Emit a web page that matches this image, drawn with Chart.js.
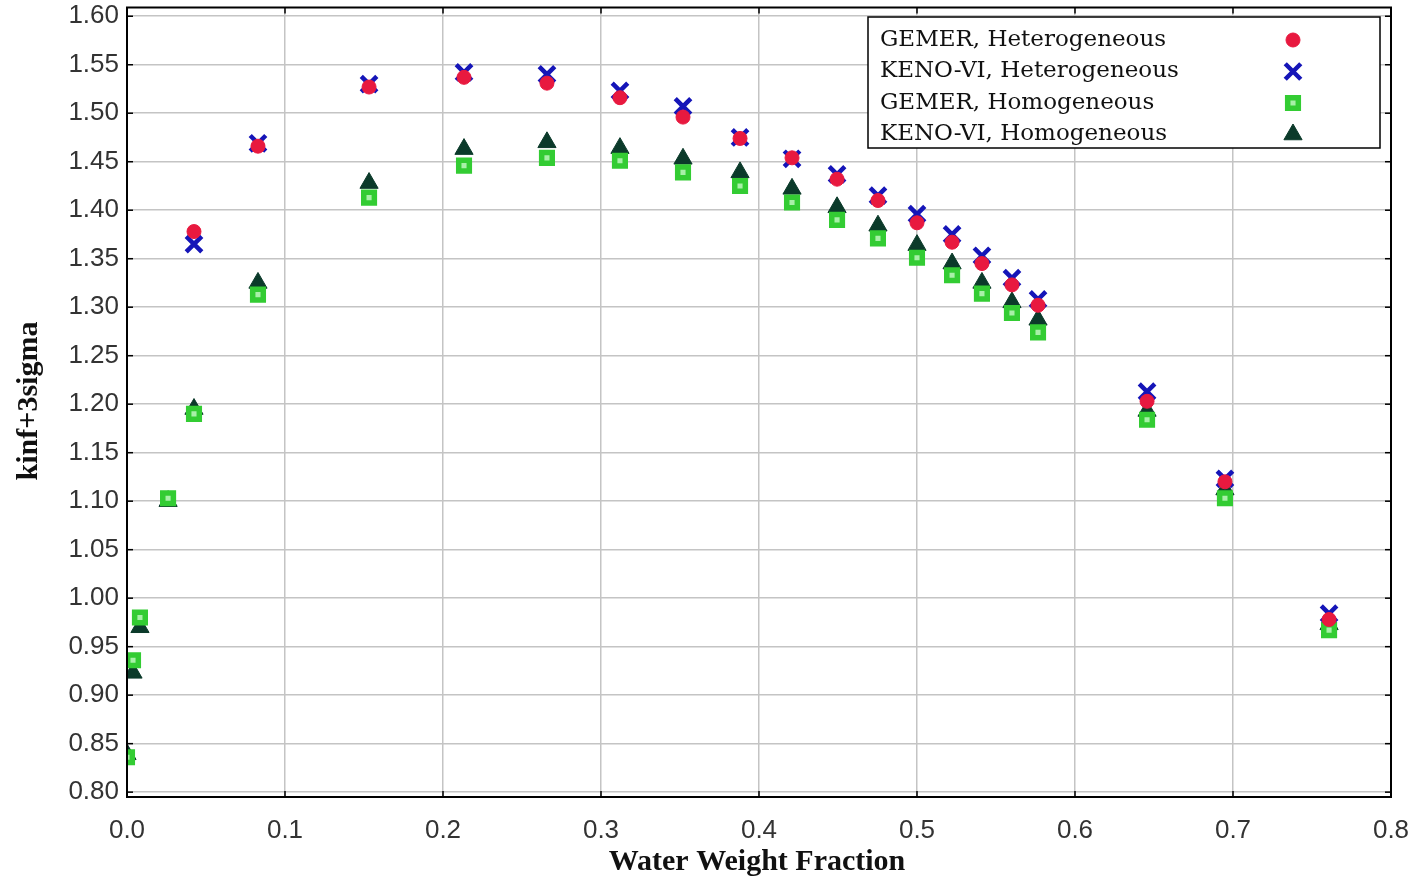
<!DOCTYPE html>
<html>
<head>
<meta charset="utf-8">
<script src="https://cdn.jsdelivr.net/npm/chart.js@4/dist/chart.umd.min.js"></script>
<style>
  html, body { margin: 0; padding: 0; background: #fff; overflow: hidden; }
  #frame { width: 1414px; height: 882px; overflow: hidden; position: relative; }
  #wrap { width: 1414px; height: 890px; position: absolute; left: 0; top: -8px; }
</style>
</head>
<body>
<div id="frame"><div id="wrap"><canvas id="chart"></canvas></div></div>
<script>
// water weight fractions where each case was run
const xHom = [0.0, 0.0038, 0.0082, 0.026, 0.0424, 0.0829, 0.1532, 0.2133, 0.2658, 0.312, 0.3519,
  0.388, 0.4209, 0.4494, 0.4753, 0.5, 0.5222, 0.5411, 0.5601, 0.5766, 0.6456, 0.6949, 0.7608];
const xHet = xHom.slice(4);

const gemerHet = [1.378, 1.466, 1.527, 1.537, 1.531, 1.516, 1.496, 1.474, 1.454, 1.432, 1.410,
  1.387, 1.367, 1.345, 1.323, 1.302, 1.203, 1.120, 0.978];
const kenoHet = [1.365, 1.469, 1.530, 1.542, 1.540, 1.523, 1.507, 1.475, 1.453, 1.437, 1.415,
  1.396, 1.375, 1.353, 1.330, 1.308, 1.213, 1.123, 0.984];
const gemerHom = [0.836, 0.936, 0.980, 1.103, 1.190, 1.313, 1.413, 1.446, 1.454, 1.451, 1.439,
  1.425, 1.408, 1.390, 1.371, 1.351, 1.333, 1.314, 1.294, 1.274, 1.184, 1.103, 0.967];
const kenoHom = [0.839, 0.923, 0.970, 1.100, 1.195, 1.325, 1.428, 1.463, 1.470, 1.464, 1.453,
  1.439, 1.422, 1.403, 1.384, 1.364, 1.345, 1.325, 1.305, 1.287, 1.193, 1.112, 0.973];

const seriesLabels = ['GEMER, Heterogeneous', 'KENO-VI, Heterogeneous', 'GEMER, Homogeneous', 'KENO-VI, Homogeneous'];
const xTicks = [0.0, 0.1, 0.2, 0.3, 0.4, 0.5, 0.6, 0.7, 0.8];
const yTicks = [0.80, 0.85, 0.90, 0.95, 1.00, 1.05, 1.10, 1.15, 1.20, 1.25, 1.30, 1.35, 1.40,
  1.45, 1.50, 1.55, 1.60];

function pts(xs, ys) {
  return ys.map((y, i) => ({ x: xs[i], y: y }));
}

const datasets = [
  { label: seriesLabels[0], data: pts(xHet, gemerHet), pointStyle: 'circle', pointRadius: 7,
    backgroundColor: '#e8193f', borderColor: '#e8193f', borderWidth: 1 },
  { label: seriesLabels[1], data: pts(xHet, kenoHet), pointStyle: 'crossRot', pointRadius: 11,
    backgroundColor: '#1515b8', borderColor: '#1515b8', borderWidth: 4.5 },
  { label: seriesLabels[2], data: pts(xHom, gemerHom), pointStyle: 'rect', pointRadius: 7.5,
    backgroundColor: '#a8f0a8', borderColor: '#33cc33', borderWidth: 5.5 },
  { label: seriesLabels[3], data: pts(xHom, kenoHom), pointStyle: 'triangle', pointRadius: 10.5,
    backgroundColor: '#0b3a2a', borderColor: '#0b3a2a', borderWidth: 1 }
];

// canvas sits 8px above the page edge
const OFF = 8;

// frame, axis titles and the boxed legend
const decor = {
  id: 'decor',
  afterDraw(chart) {
    const ctx = chart.ctx;
    const a = chart.chartArea;
    ctx.save();
    ctx.strokeStyle = '#000';
    ctx.lineWidth = 2;
    ctx.strokeRect(a.left, a.top, a.right - a.left, a.bottom - a.top);

    // small inward ticks on every edge
    ctx.lineWidth = 1.5;
    const xs = chart.scales.x, ys = chart.scales.y;
    xTicks.forEach(v => {
      const px = xs.getPixelForValue(v);
      ctx.beginPath(); ctx.moveTo(px, a.top); ctx.lineTo(px, a.top + 6); ctx.stroke();
      ctx.beginPath(); ctx.moveTo(px, a.bottom); ctx.lineTo(px, a.bottom - 6); ctx.stroke();
    });
    yTicks.forEach(v => {
      const py = ys.getPixelForValue(v);
      ctx.beginPath(); ctx.moveTo(a.right, py); ctx.lineTo(a.right - 6, py); ctx.stroke();
      ctx.beginPath(); ctx.moveTo(a.left, py); ctx.lineTo(a.left + 6, py); ctx.stroke();
    });

    ctx.fillStyle = '#111';
    ctx.font = 'bold 30px "Liberation Serif", serif';
    ctx.textAlign = 'center';
    ctx.textBaseline = 'middle';
    ctx.fillText('Water Weight Fraction', 757, 862 + OFF);
    ctx.translate(29, 401 + OFF);
    ctx.rotate(-Math.PI / 2);
    ctx.fillText('kinf+3sigma', 0, 0);
    ctx.restore();

    // legend
    ctx.save();
    const bx = 868, by = 17 + OFF, bw = 512, bh = 131;
    ctx.fillStyle = '#fff';
    ctx.fillRect(bx, by, bw, bh);
    ctx.strokeStyle = '#000';
    ctx.lineWidth = 1.5;
    ctx.strokeRect(bx, by, bw, bh);
    ctx.font = '23px "DejaVu Serif", serif';
    ctx.textAlign = 'left';
    ctx.textBaseline = 'middle';
    chart.data.datasets.forEach((ds, i) => {
      const ty = 40 + OFF + i * 31.5;
      ctx.fillStyle = '#111';
      ctx.fillText(ds.label, 880, ty);
      ctx.fillStyle = ds.backgroundColor;
      ctx.strokeStyle = ds.borderColor;
      ctx.lineWidth = ds.borderWidth;
      Chart.helpers.drawPoint(ctx, { pointStyle: ds.pointStyle, radius: ds.pointRadius, rotation: 0,
        borderWidth: ds.borderWidth }, 1293, ty);
    });
    ctx.restore();
  }
};

const tickFont = { family: '"Liberation Sans", sans-serif', size: 26 };

new Chart(document.getElementById('chart'), {
  type: 'scatter',
  data: { datasets: datasets },
  options: {
    responsive: true,
    maintainAspectRatio: false,
    animation: false,
    layout: { padding: { left: 0, right: 23, top: 7, bottom: 0 } },
    plugins: { legend: { display: false }, tooltip: { enabled: false } },
    scales: {
      x: {
        type: 'linear', min: 0, max: 0.8,
        afterBuildTicks: s => { s.ticks = xTicks.map(v => ({ value: v })); },
        afterFit: s => { s.height = 85; s.paddingLeft = 0; s.paddingRight = 0; },
        grid: { color: '#c4c4c4', lineWidth: 1.5, drawTicks: false },
        border: { display: false },
        ticks: { font: tickFont, color: '#333', padding: 18, maxRotation: 0,
          callback: v => Number(v).toFixed(1) }
      },
      y: {
        type: 'linear', min: 0.795, max: 1.609,
        afterBuildTicks: s => { s.ticks = yTicks.map(v => ({ value: v })); },
        afterFit: s => { s.width = 127; s.paddingTop = 0; s.paddingBottom = 0; },
        grid: { color: '#c4c4c4', lineWidth: 1.5, drawTicks: false },
        border: { display: false },
        ticks: { font: tickFont, color: '#333', padding: 8,
          callback: v => Number(v).toFixed(2) }
      }
    }
  },
  plugins: [decor]
});
</script>
</body>
</html>
